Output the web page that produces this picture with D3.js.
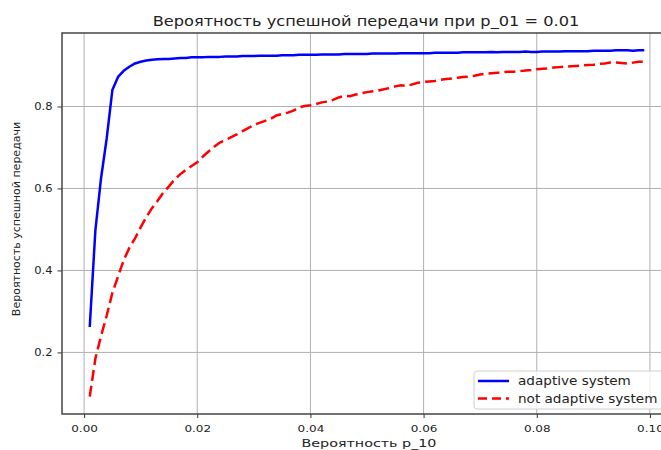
<!DOCTYPE html>
<html>
<head>
<meta charset="utf-8">
<script src="https://cdn.jsdelivr.net/npm/d3@7"></script>
<style>
	body { margin: 0; background: #fff; }
	text { font-family: "DejaVu Sans", sans-serif; fill: #222; }
	.sq { transform-box: fill-box; transform-origin: center; transform: scaleY(0.78); }
	.sq2 { transform-box: fill-box; transform-origin: center; transform: scaleY(0.9); }
</style>
</head>
<body>
<div id="chart-box"></div>
<script>
// p_10 values (x axis)
const pValues = [0.001,0.002,0.003,0.004,0.005,0.006,0.007,0.008,0.009,0.010,
	0.011,0.012,0.013,0.014,0.015,0.016,0.017,0.018,0.019,0.020,
	0.021,0.022,0.023,0.024,0.025,0.026,0.027,0.028,0.029,0.030,
	0.031,0.032,0.033,0.034,0.035,0.036,0.037,0.038,0.039,0.040,
	0.041,0.042,0.043,0.044,0.045,0.046,0.047,0.048,0.049,0.050,
	0.051,0.052,0.053,0.054,0.055,0.056,0.057,0.058,0.059,0.060,
	0.061,0.062,0.063,0.064,0.065,0.066,0.067,0.068,0.069,0.070,
	0.071,0.072,0.073,0.074,0.075,0.076,0.077,0.078,0.079,0.080,
	0.081,0.082,0.083,0.084,0.085,0.086,0.087,0.088,0.089,0.090,
	0.091,0.092,0.093,0.094,0.095,0.096,0.097,0.098,0.099];
// adaptive system
const adaptiveValues = [0.262,0.498,0.625,0.722,0.840,0.872,0.887,0.897,0.905,0.909,
	0.912,0.914,0.915,0.916,0.916,0.917,0.918,0.918,0.920,0.920,
	0.920,0.921,0.921,0.921,0.922,0.922,0.922,0.923,0.923,0.923,
	0.924,0.924,0.924,0.924,0.925,0.925,0.925,0.926,0.926,0.926,
	0.926,0.927,0.927,0.927,0.927,0.928,0.928,0.928,0.928,0.928,
	0.929,0.929,0.929,0.929,0.929,0.930,0.930,0.930,0.930,0.930,
	0.930,0.931,0.931,0.931,0.931,0.931,0.932,0.932,0.932,0.932,
	0.932,0.933,0.932,0.933,0.933,0.933,0.933,0.934,0.933,0.933,
	0.934,0.934,0.934,0.934,0.935,0.935,0.935,0.935,0.935,0.936,
	0.936,0.936,0.936,0.937,0.937,0.937,0.936,0.937,0.937];
// not adaptive system
const notAdaptiveValues = [0.092,0.185,0.240,0.290,0.345,0.385,0.425,0.455,0.478,0.505,
	0.530,0.552,0.570,0.590,0.605,0.622,0.635,0.645,0.655,0.664,
	0.678,0.690,0.702,0.712,0.718,0.725,0.732,0.740,0.747,0.755,
	0.760,0.765,0.770,0.778,0.782,0.785,0.790,0.798,0.801,0.803,
	0.806,0.810,0.812,0.816,0.822,0.826,0.825,0.829,0.832,0.835,
	0.837,0.839,0.842,0.845,0.849,0.852,0.850,0.854,0.858,0.860,
	0.861,0.862,0.865,0.867,0.868,0.870,0.872,0.873,0.875,0.878,
	0.880,0.881,0.882,0.884,0.885,0.885,0.886,0.888,0.889,0.891,
	0.892,0.893,0.895,0.896,0.897,0.898,0.899,0.900,0.901,0.902,
	0.904,0.905,0.907,0.907,0.906,0.905,0.907,0.909,0.909];
const xTicks = [0.00,0.02,0.04,0.06,0.08,0.10];
const yTicks = [0.2,0.4,0.6,0.8];
const seriesNames = ["adaptive system","not adaptive system"];

const width = 661, height = 450;
const padd = {left: 62, right: -11, top: 33, bottom: 36};

const svg = d3.select("#chart-box")
	.append("svg")
	.attr("width", width)
	.attr("height", height);

// matplotlib-like 5% margins
const xExt = d3.extent(pValues);
const yExt = d3.extent(adaptiveValues.concat(notAdaptiveValues));
const xM = (xExt[1]-xExt[0])*0.05, yM = (yExt[1]-yExt[0])*0.05;

const xScale = d3.scaleLinear()
	.domain([xExt[0]-xM, xExt[1]+xM])
	.range([padd.left, width-padd.right]);
const yScale = d3.scaleLinear()
	.domain([yExt[0]-yM, yExt[1]+yM])
	.range([height-padd.bottom, padd.top]);

//grid
svg.append("g")
	.attr("id","x-grid")
	.selectAll("line")
	.data(xTicks)
	.enter()
	.append("line")
	.attr("x1", d=>xScale(d)).attr("x2", d=>xScale(d))
	.attr("y1", padd.top).attr("y2", height-padd.bottom)
	.attr("stroke","#b0b0b0").attr("stroke-width",1);
svg.append("g")
	.attr("id","y-grid")
	.selectAll("line")
	.data(yTicks)
	.enter()
	.append("line")
	.attr("x1", padd.left).attr("x2", width-padd.right)
	.attr("y1", d=>yScale(d)).attr("y2", d=>yScale(d))
	.attr("stroke","#b0b0b0").attr("stroke-width",1);

//lines
const line = (vals)=> d3.line()
	.x((d,i)=>xScale(pValues[i]))
	.y(d=>yScale(d))(vals);

svg.append("path")
	.attr("d", line(adaptiveValues))
	.attr("fill","none")
	.attr("stroke","#0000ff")
	.attr("stroke-width",2.5)
	.attr("stroke-linejoin","round");
svg.append("path")
	.attr("d", line(notAdaptiveValues))
	.attr("fill","none")
	.attr("stroke","#ff0000")
	.attr("stroke-width",2.5)
	.attr("stroke-dasharray","11,5");

//axes
const xAxis = d3.axisBottom(xScale)
	.tickValues(xTicks)
	.tickFormat(d3.format(".2f"))
	.tickSize(4)
	.tickPadding(3);
const gx = svg.append("g")
	.attr("id","x-axis")
	.attr("transform", `translate(0,${height-padd.bottom})`)
	.call(xAxis);
const yAxis = d3.axisLeft(yScale)
	.tickValues(yTicks)
	.tickFormat(d3.format(".1f"))
	.tickSize(4.5)
	.tickPadding(5);
const gy = svg.append("g")
	.attr("id","y-axis")
	.attr("transform", `translate(${padd.left},0)`)
	.call(yAxis);
[gx, gy].forEach(g=>{
	g.select(".domain").remove();
	g.selectAll(".tick line").attr("stroke","#333");
	g.selectAll(".tick text").attr("font-family","DejaVu Sans").attr("fill","#222");
});
gx.selectAll(".tick text").attr("font-size",12).attr("dy","0.96em").attr("class","sq");
gy.selectAll(".tick text").attr("font-size",11.5).attr("class","sq2");

//frame
svg.append("rect")
	.attr("x", padd.left).attr("y", padd.top)
	.attr("width", width-padd.right-padd.left)
	.attr("height", height-padd.bottom-padd.top)
	.attr("fill","none")
	.attr("stroke","#444")
	.attr("stroke-width",1.5);

//titles
svg.append("text")
	.attr("id","title")
	.attr("x", 366)
	.attr("y", 26)
	.attr("text-anchor","middle")
	.attr("font-size",16.2)
	.attr("class","sq2")
	.text("Вероятность успешной передачи при p_01 = 0.01");
svg.append("text")
	.attr("x", 369)
	.attr("y", 448.2)
	.attr("text-anchor","middle")
	.attr("font-size",14.3)
	.attr("class","sq")
	.text("Вероятность p_10");
svg.append("text")
	.attr("transform", "translate(20,219) rotate(-90)")
	.attr("text-anchor","middle")
	.attr("font-size",11)
	.text("Вероятность успешной передачи");

//legend
const legend = svg.append("g")
	.attr("id","legend")
	.attr("transform","translate(474,371)");
legend.append("rect")
	.attr("width",200).attr("height",38)
	.attr("rx",3)
	.attr("fill","#fff").attr("fill-opacity",0.8)
	.attr("stroke","#d0d0d0");
const styles = [{c:"#0000ff", dash:null},{c:"#ff0000", dash:"9,5"}];
seriesNames.forEach((name,i)=>{
	legend.append("line")
		.attr("x1",4).attr("x2",35)
		.attr("y1",10+i*17.5).attr("y2",10+i*17.5)
		.attr("stroke",styles[i].c)
		.attr("stroke-width",2.5)
		.attr("stroke-dasharray",styles[i].dash);
	legend.append("text")
		.attr("x",44).attr("y",14.5+i*17.5)
		.attr("font-size",13.6)
		.attr("class","sq2")
		.text(name);
});
</script>
</body>
</html>
